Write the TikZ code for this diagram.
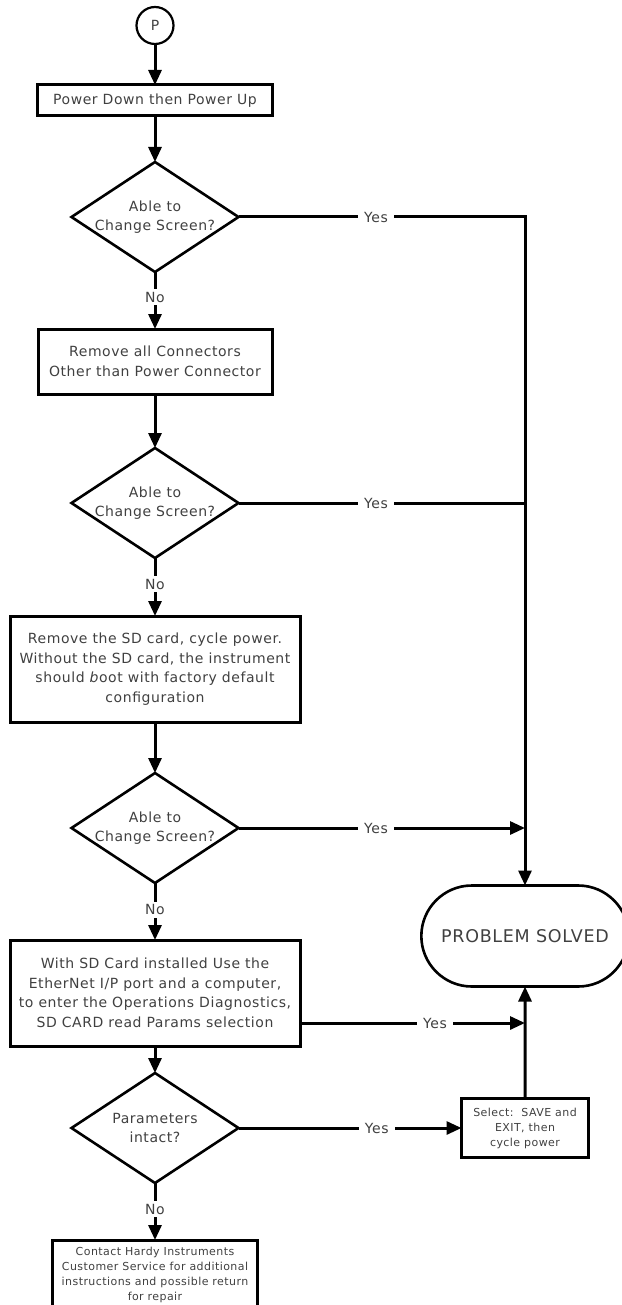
\documentclass[tikz,border=0pt]{standalone}
\usepackage{fontspec}
\setmainfont{DejaVu Sans}[LetterSpace=4]
\usetikzlibrary{shapes.geometric, shapes.misc, arrows.meta, positioning}

\begin{document}
\begin{tikzpicture}[x=1pt, y=-1pt, font=\fontsize{14}{19.5}\selectfont]
    \tikzstyle{process} = [rectangle, draw, line width=3pt, text=black!75,
        align=center, inner sep=0pt, outer sep=0pt]
    \tikzstyle{decision} = [diamond, draw, line width=2.6pt, text=black!75,
        align=center, minimum width=167pt, minimum height=110pt,
        shape aspect=1.52, inner sep=-8pt, outer sep=0pt]
    \tikzstyle{terminal} = [rounded rectangle, draw, line width=2.6pt,
        text=black!75, outer sep=0pt, font=\fontsize{17.5}{20}\selectfont]
    \tikzstyle{small} = [font=\fontsize{11}{15}\selectfont]
    \tikzstyle{line} = [draw, line width=3pt, -{Triangle[length=15pt,width=13pt]}]
    \tikzstyle{plain} = [draw, line width=3pt]
    \tikzstyle{answer} = [fill=white, text=black!75, inner xsep=6pt, inner ysep=3pt]

    \useasboundingbox (0,0) rectangle (621,1305);

    % main column
    \node [circle, draw, line width=2.2pt, minimum size=37pt, inner sep=0pt,
        outer sep=0pt, text=black!75] (start) at (155,25.5) {P};
    \node [process, minimum width=235pt, minimum height=31pt, below=41pt of start] (pwr) {Power Down then Power Up};
    \node [decision, below=46pt of pwr] (dec1) {Able to\\Change Screen?};
    \node [process, minimum width=234pt, minimum height=65pt, below=57pt of dec1] (rmconn) {Remove all Connectors\\Other than Power Connector};
    \node [decision, below=54pt of rmconn] (dec2) {Able to\\Change Screen?};
    \node [process, minimum width=290pt, minimum height=106pt, below=58pt of dec2] (rmsd) {Remove the SD card, cycle power.\\Without the SD card, the instrument\\should \textit{b}oot with factory default\\configuration};
    \node [decision, below=51pt of rmsd] (dec3) {Able to\\Change Screen?};
    \node [process, minimum width=290pt, minimum height=106pt, below=57pt of dec3] (ethip) {With SD Card installed Use the\\EtherNet I/P port and a computer,\\to enter the Operations Diagnostics,\\SD CARD read Params selection};
    \node [decision, below=27pt of ethip] (dec4) {Parameters\\intact?};
    \node [process, small, minimum width=205pt, minimum height=69pt, below=57pt of dec4] (contact) {Contact Hardy Instruments\\Customer Service for additional\\instructions and possible return\\for repair};

    % right column
    \node [process, small, minimum width=127pt, minimum height=59pt, right=223pt of dec4] (select) {Select:\ \ SAVE and\\EXIT, then\\cycle power};
    \node [terminal, minimum width=214pt, minimum height=101pt, above=112pt of select] (solved) {PROBLEM SOLVED};

    \path [line] (start) -- (pwr);
    \path [line] (pwr) -- (dec1);
    \path [line] (dec1) -- node [answer, pos=0.44] {No} (rmconn);
    \path [line] (rmconn) -- (dec2);
    \path [line] (dec2) -- node [answer, pos=0.45] {No} (rmsd);
    \path [line] (rmsd) -- (dec3);
    \path [line] (dec3) -- node [answer, pos=0.47] {No} (ethip);
    \path [line] (ethip) -- (dec4);
    \path [line] (dec4) -- node [answer, pos=0.46] {No} (contact);

    \path [line] (dec1.east) -- node [answer, pos=0.48] {Yes} (dec1.east -| solved.north) -- (solved.north);
    \path [plain] (dec2.east) -- node [answer, pos=0.48] {Yes} (dec2.east -| solved.north);
    \path [line] (dec3.east) -- node [answer, pos=0.48] {Yes} (dec3.east -| solved.north);
    \coordinate (ethout) at ([yshift=23pt]ethip.south east);
    \path [line] (ethout) -- node [answer, pos=0.6] {Yes} (ethout -| solved.south);
    \path [line] (dec4.east) -- node [answer, pos=0.62] {Yes} (select.west);
    \path [line] (select) -- (solved);
\end{tikzpicture}
\end{document}
